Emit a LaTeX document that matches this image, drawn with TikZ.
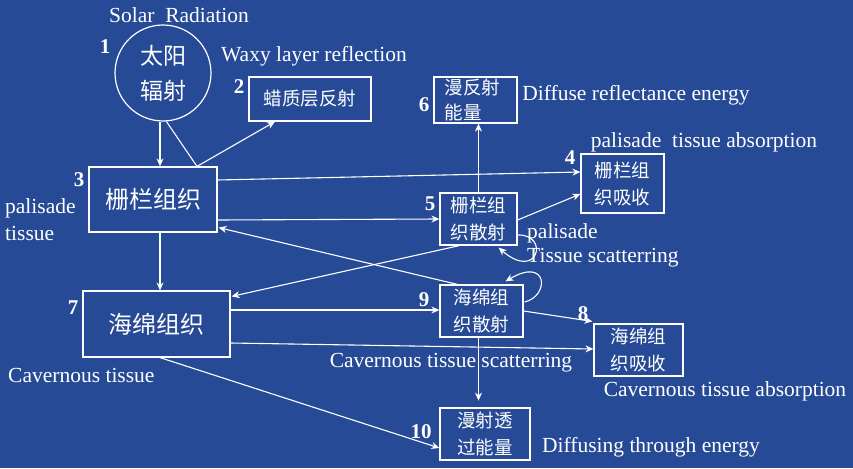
\documentclass[tikz,border=0pt]{standalone}
\usepackage{fontspec}
\setmainfont{Liberation Serif}
\newfontfamily\cjk{Noto Sans CJK SC}
\usetikzlibrary{arrows.meta,calc}
\definecolor{bg}{RGB}{38,74,150}
\tikzset{
  box/.style={draw=white,line width=1.2pt,rectangle,inner sep=0pt,text=white,font=\cjk\fontsize{18.5}{27}\selectfont,align=left},
  bigbox/.style={box,font=\cjk\fontsize{24}{27}\selectfont},
  lbl/.style={text=white,inner sep=0pt,font=\fontsize{21.5}{24}\selectfont},
  num/.style={text=white,inner sep=0pt,font=\bfseries\fontsize{21}{22}\selectfont},
  conn/.style={draw=white,line width=1.1pt},
  arr/.style={conn,-{Stealth[length=8pt,width=7pt]}}
}
\begin{document}
\begin{tikzpicture}[x=1pt,y=-1pt]
\fill[bg] (0,0) rectangle (853,468);
\useasboundingbox (0,0) rectangle (853,468);
% nodes
\node[circle,draw=white,line width=1.2pt,minimum size=96pt,inner sep=0pt,text=white,font=\cjk\fontsize{23}{35}\selectfont,align=center] (c) at (163,73) {太阳\\辐射};
\node[box,minimum width=122pt,minimum height=44pt] (n2) at (310,99) {蜡质层反射};
\node[bigbox,minimum width=128pt,minimum height=65pt] (n3) at (153,199.5) {栅栏组织};
\node[box,minimum width=83pt,minimum height=46pt,text width=62pt,font=\cjk\fontsize{18.5}{25}\selectfont] (n6) at (475.5,100) {漫反射\\能量};
\node[box,minimum width=83pt,minimum height=59pt] (n4) at (622.5,183.5) {栅栏组\\织吸收};
\node[box,minimum width=77pt,minimum height=52pt] (n5) at (478.5,219) {栅栏组\\织散射};
\node[bigbox,minimum width=147pt,minimum height=66pt] (n7) at (156.5,324) {海绵组织};
\node[box,minimum width=83pt,minimum height=52pt] (n9) at (481.5,311) {海绵组\\织散射};
\node[box,minimum width=89pt,minimum height=52pt] (n8) at (638.5,350) {海绵组\\织吸收};
\node[box,minimum width=90pt,minimum height=52pt] (n10) at (485,434) {漫射透\\过能量};
% labels
\node[lbl] (t1) at (179,15) {Solar\ \ Radiation};
\node[num] (k1) at (105,47) {1};
\node[lbl] (t2) at (314,56) {Waxy layer reflection};
\node[num] (k2) at (239,87) {2};
\node[num] (k3) at (79,180) {3};
\node[lbl,anchor=west] (t3a) at (5,208) {palisade};
\node[lbl,anchor=west] (t3b) at (5,233) {tissue};
\node[num] (k6) at (424,105) {6};
\node[lbl] (t6) at (636,95) {Diffuse reflectance energy};
\node[lbl] (t4) at (704,142) {palisade\ \ tissue absorption};
\node[num] (k4) at (570,158) {4};
\node[num] (k5) at (430,204) {5};
\node[lbl,anchor=west] (t5a) at (527,233) {palisade};
\node[lbl,anchor=west] (t5b) at (527,258) {Tissue scatterring};
\node[num] (k7) at (73,308) {7};
\node[num] (k9) at (424,300) {9};
\node[num] (k8) at (583,314) {8};
\node[num] (k10) at (421,432) {10};
\node[lbl,anchor=west] (t7) at (8,375) {Cavernous tissue};
\node[lbl] (t9) at (451,363) {Cavernous tissue scatterring};
\node[lbl] (t8) at (725,391) {Cavernous tissue absorption};
\node[lbl] (t10) at (651,447) {Diffusing through energy};
% connectors
\coordinate (refl) at ($(n3.north)+(44,0)$);
\coordinate (d3) at ($(n3.south)+(7,0)$);
\coordinate (d7) at (d3 |- n7.north);
\coordinate (d9) at ($(n9.south)+(-3,0)$);
\coordinate (d10) at ($(d9)+(0,63)$);
\draw[arr] ([xshift=-3pt]c.south) -- ([xshift=-3pt]c.south |- n3.north);
\draw[conn] (c.-86) -- (refl);
\draw[arr] (refl) -- ([xshift=-35pt]n2.south);
\draw[arr] ($(n3.east)+(0,-19.5)$) -- ($(n4.west)+(0,-11.5)$);
\draw[arr] ($(n3.east)+(0,20.5)$) -- ($(n5.west)+(0,0)$);
\draw[arr] (n5.north) -- (n5.north |- n6.south);
\draw[arr] ($(n5.east)+(0,1)$) -- ($(n4.west)+(0,10.5)$);
\draw[arr] ($(n9.north west)+(18,0)$) -- ($(n3.south east)+(1,-5)$);
\draw[arr] ($(n5.south west)+(20,0)$) -- ($(n7.north east)+(1,6)$);
\draw[arr] ($(n7.east)+(0,-14)$) -- ($(n9.west)+(0,-1)$);
\draw[arr] ($(n7.east)+(0,19)$) -- ($(n8.west)+(0,-1)$);
\draw[arr] ($(n7.south)+(3.5,0)$) -- ($(n10.west)+(0,14)$);
\draw[arr] (d3) -- (d7);
\draw[arr] ($(n9.east)+(0,0)$) -- ($(n8.north west)+(-1,-2)$);
\draw[arr] (d9) -- (d10);
\draw[arr] ($(n5.east)+(0,16)$) .. controls (550,234) and (538,282) .. ($(n5.south east)+(-19,2)$);
\draw[arr] ($(n9.east)+(1,-9)$) .. controls (550,296) and (548,256) .. ($(n9.north)+(24,-3)$);
\end{tikzpicture}
\end{document}
